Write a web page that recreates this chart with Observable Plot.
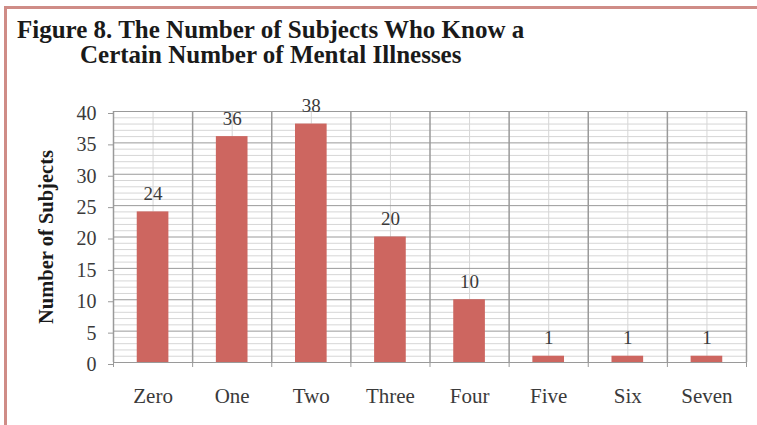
<!DOCTYPE html>
<html>
<head>
<meta charset="utf-8">
<script src="https://cdn.jsdelivr.net/npm/d3@7"></script>
<script src="https://cdn.jsdelivr.net/npm/@observablehq/plot@0.6"></script>
<style>
  html, body { margin: 0; padding: 0; background: #ffffff; }
  #fig { position: relative; width: 757px; height: 425px; overflow: hidden; background: #fff; }
  #bt { position: absolute; left: 4px; top: 6px; width: 753px; height: 3px; background: #cf8c87; }
  #bl { position: absolute; left: 4px; top: 6px; width: 3px; height: 419px; background: #cf8c87; }
  #head { position: relative; height: 80px; }
  .t { position: absolute; font-family: "Liberation Serif", "Times New Roman", serif; font-weight: bold;
       font-size: 25px; line-height: 25px; color: #1a1a1a; white-space: nowrap; }
  #chart svg { display: block; }
  #chart svg text { font-family: "Liberation Serif", "Times New Roman", serif; }
</style>
</head>
<body>
<div id="fig">
  <div id="head">
    <div class="t" style="left:17px; top:17px;">Figure 8. The Number of Subjects Who Know a</div>
    <div class="t" style="left:80px; top:42px;">Certain Number of Mental Illnesses</div>
  </div>
  <div id="chart"></div>
  <div id="bt"></div>
  <div id="bl"></div>
</div>
<script>
const categories = ["Zero", "One", "Two", "Three", "Four", "Five", "Six", "Seven"];
const values = [24, 36, 38, 20, 10, 1, 1, 1];
const yTicks = [0, 5, 10, 15, 20, 25, 30, 35, 40];
const yLabel = "Number of Subjects";

const data = categories.map((c, i) => ({category: c, index: i, value: values[i]}));
const n = categories.length;
const minorY = d3.range(0, 41).filter(v => v % 5 !== 0);
const centers = d3.range(n).map(i => i + 0.5);
const bounds = d3.range(n + 1);

const serif = '"Liberation Serif", "Times New Roman", serif';

const chart = Plot.plot({
  width: 757,
  height: 345,
  marginTop: 31,
  marginBottom: 63,
  marginLeft: 113,
  marginRight: 11,
  style: {fontFamily: serif, background: "#fff", overflow: "visible"},
  x: {type: "linear", domain: [0, n]},
  y: {domain: [0, 40]},
  marks: [
    Plot.ruleY(minorY, {stroke: "#d6d6d6", strokeWidth: 1}),
    Plot.ruleX(centers, {stroke: "#d6d6d6", strokeWidth: 1}),
    Plot.ruleY(yTicks, {stroke: "#9a9a9a", strokeWidth: 1}),
    Plot.ruleX(bounds, {stroke: "#9a9a9a", strokeWidth: 1.5}),
    Plot.rectY(data, {x1: d => d.index + 0.3, x2: d => d.index + 0.7, y: "value", fill: "#cd6660"}),
    Plot.text(data, {x: d => d.index + 0.5, y: "value", text: d => String(d.value),
      dy: -12, lineAnchor: "bottom", fontSize: 19, fill: "#3a3a3a"}),
    Plot.axisY({ticks: yTicks, tickSize: 5, tickPadding: 12, label: null, fontSize: 20,
      stroke: "#9a9a9a", color: "#3a3a3a", dy: 2}),
    Plot.axisX({ticks: bounds, tickSize: 5, tickFormat: () => "", label: null, stroke: "#9a9a9a"}),
    Plot.axisX({ticks: centers, tickSize: 0, tickPadding: 26, label: null, fontSize: 21,
      color: "#3a3a3a", tickFormat: v => categories[Math.floor(v)]}),
    Plot.text([yLabel], {frameAnchor: "left", dx: -67, rotate: -90, text: d => d,
      textAnchor: "middle", fontSize: 20.5, fontWeight: "bold", fill: "#1a1a1a"})
  ]
});
document.getElementById("chart").append(chart);
</script>
</body>
</html>
